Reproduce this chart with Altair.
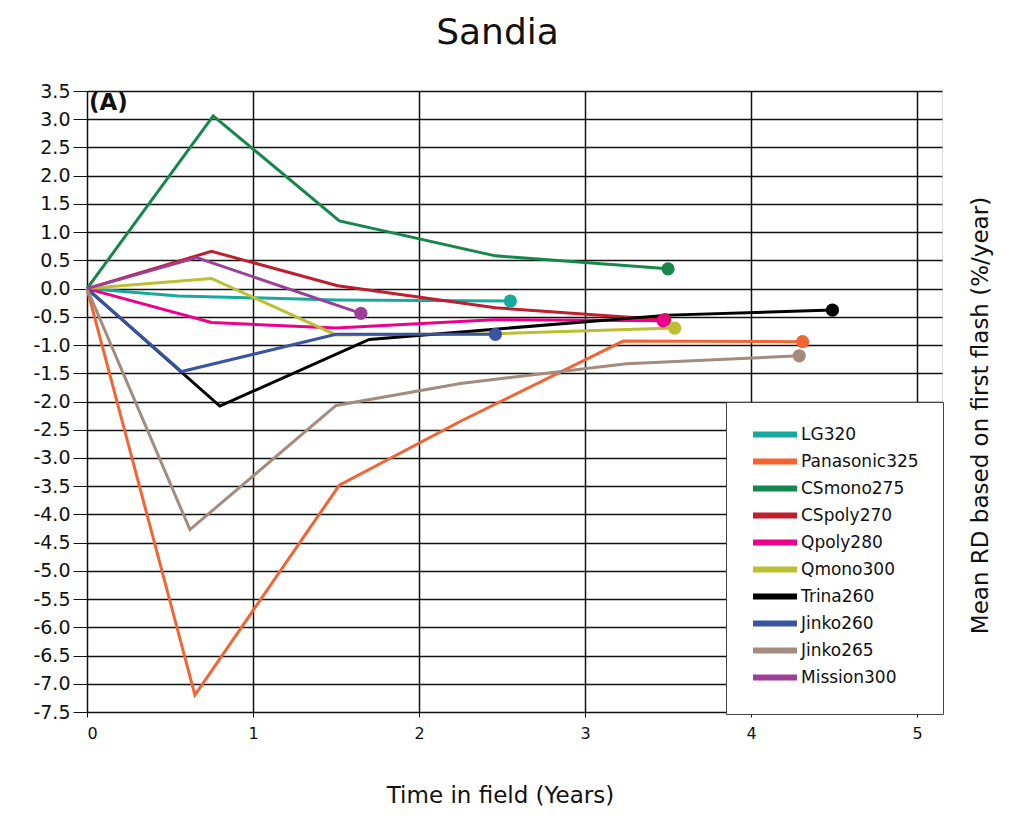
import altair as alt
import pandas as pd

series_names = ["LG320", "Panasonic325", "CSmono275", "CSpoly270", "Qpoly280",
                "Qmono300", "Trina260", "Jinko260", "Jinko265", "Mission300"]
series_colors = ["#17a99c", "#f26533", "#16874a", "#be1e2d", "#ec008c",
                 "#bcbf31", "#000000", "#3a54a4", "#a38b7e", "#9b3f97"]

lg320_t = [0, 0.55, 1.5, 2.55]
lg320_v = [0, -0.13, -0.2, -0.22]
panasonic325_t = [0, 0.65, 1.52, 2.25, 3.23, 4.31]
panasonic325_v = [0, -7.2, -3.48, -2.35, -0.93, -0.94]
csmono275_t = [0, 0.76, 1.52, 2.46, 3.5]
csmono275_v = [0, 3.06, 1.2, 0.58, 0.35]
cspoly270_t = [0, 0.75, 1.51, 2.46, 3.48]
cspoly270_v = [0, 0.66, 0.05, -0.34, -0.55]
qpoly280_t = [0, 0.75, 1.5, 2.45, 3.47]
qpoly280_v = [0, -0.6, -0.7, -0.55, -0.57]
qmono300_t = [0, 0.75, 1.5, 2.45, 3.54]
qmono300_v = [0, 0.18, -0.82, -0.8, -0.7]
trina260_t = [0, 0.8, 1.7, 3.5, 4.49]
trina260_v = [0, -2.08, -0.9, -0.47, -0.38]
jinko260_t = [0, 0.57, 1.5, 2.46]
jinko260_v = [0, -1.47, -0.81, -0.81]
jinko265_t = [0, 0.62, 1.5, 2.25, 3.25, 4.29]
jinko265_v = [0, -4.27, -2.07, -1.68, -1.33, -1.19]
mission300_t = [0, 0.66, 1.65]
mission300_v = [0, 0.55, -0.44]

all_t = [lg320_t, panasonic325_t, csmono275_t, cspoly270_t, qpoly280_t,
         qmono300_t, trina260_t, jinko260_t, jinko265_t, mission300_t]
all_v = [lg320_v, panasonic325_v, csmono275_v, cspoly270_v, qpoly280_v,
         qmono300_v, trina260_v, jinko260_v, jinko265_v, mission300_v]

y_ticks = [3.5 - 0.5 * i for i in range(23)]
x_ticks = [0, 1, 2, 3, 4, 5]

rows = []
for name, ts, vs in zip(series_names, all_t, all_v):
    for i, (t, v) in enumerate(zip(ts, vs)):
        rows.append({"module": name, "t": t, "v": v, "idx": i, "last": i == len(ts) - 1})
df = pd.DataFrame(rows)

FONT = "DejaVu Sans"
color = alt.Color(
    "module:N",
    scale=alt.Scale(domain=series_names, range=series_colors),
    legend=alt.Legend(
        title=None, orient="none", legendX=639, legendY=311,
        symbolType="M-1,0H7", symbolSize=121, symbolStrokeWidth=6,
        labelFont=FONT, labelFontSize=17, labelColor="#111",
        padding=24, rowPadding=2, labelOffset=34,
        strokeColor="#444", fillColor="white",
    ),
)

x = alt.X("t:Q", scale=alt.Scale(domain=[0, 5.15], nice=False, zero=False),
          axis=alt.Axis(values=x_ticks, format="d", title="Time in field (Years)",
                        grid=True, gridColor="#111", gridWidth=1.5,
                        labelFont=FONT, labelFontSize=16, labelColor="#111",
                        labelPadding=8, tickColor="#111", tickSize=5,
                        domain=False,
                        titleFont=FONT, titleFontSize=23, titleFontWeight="normal",
                        titleColor="#111", titleX=413, titleY=83, titleBaseline="middle"))
y = alt.Y("v:Q", scale=alt.Scale(domain=[-7.5, 3.5], nice=False, zero=False),
          axis=alt.Axis(values=y_ticks, format=".1f",
                        labelExpr="replace(datum.label, '\u2212', '-')",
                        title="Mean RD based on first flash (%/year)",
                        grid=True, gridColor="#111", gridWidth=1.5,
                        labelFont=FONT, labelFontSize=19, labelColor="#111",
                        labelPadding=3, tickColor="#111", tickSize=14,
                        domain=False,
                        titleFont=FONT, titleFontSize=23, titleFontWeight="normal",
                        titleColor="#111", titleX=893, titleY=324,
                        titleAngle=270, titleAlign="center", titleBaseline="middle"))

lines = alt.Chart(df).mark_line(strokeWidth=3).encode(
    x=x, y=y, color=color, order="idx:Q", detail="module:N")
dots = alt.Chart(df).transform_filter("datum.last").mark_circle(size=175, opacity=1).encode(
    x=x, y=y, color=alt.Color("module:N", legend=None,
                              scale=alt.Scale(domain=series_names, range=series_colors)))
label_a = alt.Chart(pd.DataFrame({"txt": ["(A)"]})).mark_text(
    font=FONT, fontSize=23, fontWeight="bold", align="left", baseline="top", color="#111"
).encode(text="txt:N", x=alt.value(2), y=alt.value(1))

chart = alt.layer(lines, dots, label_a).properties(
    width=855, height=621,
    title=alt.TitleParams("Sandia", font=FONT, fontSize=36, fontWeight="normal",
                          color="#111", anchor="middle", dx=-17, offset=30),
    autosize=alt.AutoSizeParams(type="none"),
    padding={"left": 79, "top": 83, "right": 70, "bottom": 100},
).configure_view(stroke="#111", strokeWidth=1.5).configure(background="white")

chart.save("out.html", embed_options={"renderer": "svg", "actions": False})
